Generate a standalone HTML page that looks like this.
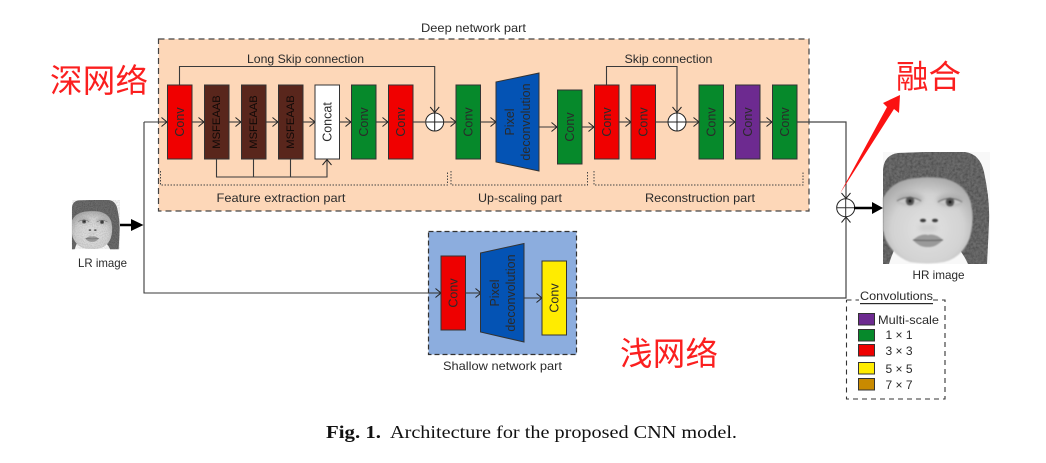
<!DOCTYPE html>
<html><head><meta charset="utf-8"><style>
html,body{margin:0;padding:0;background:#fff;width:1046px;height:463px;overflow:hidden}
svg{display:block}
text{font-family:"Liberation Sans",sans-serif;fill:#2a2a2a}
.t{font-size:12px;text-anchor:middle;dominant-baseline:central}
.r{font-size:12.5px;text-anchor:middle;dominant-baseline:central}
.m{font-size:11.2px;text-anchor:middle;dominant-baseline:central;fill:#120a08}
.b{stroke:#333;stroke-width:1}
.l{fill:none;stroke:#3a3a3a;stroke-width:1.1}
.zh{font-family:"Liberation Sans","Noto Sans CJK SC",sans-serif;fill:#fb1f1f;font-size:32.5px}
</style></head><body>
<svg width="1046" height="463" viewBox="0 0 1046 463" xmlns="http://www.w3.org/2000/svg">
<defs>
<marker id="a" markerUnits="userSpaceOnUse" markerWidth="12" markerHeight="12" refX="8" refY="6" orient="auto" overflow="visible"><path d="M2.5,1.500L8,6L2.5,10.500" fill="none" stroke="#222" stroke-width="1"/></marker>
<filter id="bl" x="-10%" y="-10%" width="120%" height="120%"><feGaussianBlur stdDeviation="0.700"/></filter>
<filter id="bl2" x="-30%" y="-30%" width="160%" height="160%"><feGaussianBlur stdDeviation="2.500"/></filter>
<radialGradient id="fg" cx="50%" cy="60%" r="62%"><stop offset="0" stop-color="#e2e2e2"/><stop offset=".65" stop-color="#d2d2d2"/><stop offset="1" stop-color="#a8a8a8"/></radialGradient>
<filter id="knit" x="0" y="0" width="100%" height="100%"><feTurbulence type="fractalNoise" baseFrequency=".38" numOctaves="2" seed="4"/><feColorMatrix values="0 0 0 0 0 0 0 0 0 0 0 0 0 0 0 0 0 0 -.9 .62"/><feComposite in2="SourceGraphic" operator="in"/><feMerge><feMergeNode in="SourceGraphic"/><feMergeNode/></feMerge><feGaussianBlur stdDeviation=".35"/></filter>
<filter id="nz" x="0" y="0" width="100%" height="100%"><feTurbulence type="fractalNoise" baseFrequency=".9" numOctaves="1" seed="7"/><feColorMatrix values="0 0 0 0 .2 0 0 0 0 .2 0 0 0 0 .2 0 0 0 -1.1 .7"/><feComposite in2="SourceGraphic" operator="in"/></filter>
<g id="face">
<rect x="883" y="152" width="107" height="112" fill="#f8f8f8"/>
<path d="M883,200V170Q884,155 898,153L925,152H965Q980,154 984,172Q990,200 989,222Q988,245 987,264H968Q962,250 950,240H900Q893,250 889,264H883Z" fill="#6c6c6c" filter="url(#knit)"/>
<path d="M883,198Q892,181 912,178.500Q928,176 945,178.500Q966,184 971,203Q975,222 969,240Q961,258 944,262Q928,265 910,262Q893,256 885,238L883,230Z" fill="url(#fg)" filter="url(#bl)"/>
<g filter="url(#bl2)" opacity=".7">
<ellipse cx="910" cy="199" rx="13" ry="6" fill="#a4a4a4"/>
<ellipse cx="950" cy="200" rx="13" ry="6" fill="#a4a4a4"/>
<ellipse cx="928" cy="228" rx="10" ry="4" fill="#c6c6c6"/>
</g>
<g filter="url(#bl)">
<path d="M897,201Q909,194 921,201Q909,207 897,201ZM938,202Q950,195 962,202Q950,208 938,202Z" fill="#c8c8c8"/>
<path d="M897,201Q909,194 921,201M938,202Q950,195 962,202" stroke="#5d5d5d" stroke-width="1" fill="none"/>
<circle cx="910" cy="201" r="4.400" fill="#585858"/><circle cx="950" cy="202" r="4.400" fill="#585858"/>
<circle cx="910" cy="201" r="1.800" fill="#161616"/><circle cx="950" cy="202" r="1.800" fill="#161616"/>
<ellipse cx="923" cy="220.500" rx="3" ry="1.700" fill="#3a3a3a"/><ellipse cx="935" cy="220.500" rx="3" ry="1.700" fill="#3a3a3a"/>
<path d="M913,240Q921,233 928,235Q935,233 943,240Q935,248 928,247Q920,248 913,240Z" fill="#9a9a9a"/>
<path d="M913,240Q928,241 943,240" stroke="#555" stroke-width="1" fill="none"/>
</g>
</g>
</defs>

<!-- Deep network part -->
<rect x="158.500" y="39" width="650.500" height="172" fill="#fdd7b8" stroke="#444" stroke-width="1.200" stroke-dasharray="6 4"/>
<text class="t" x="473.500" y="28" textLength="105" lengthAdjust="spacingAndGlyphs">Deep network part</text>
<text class="t" x="305.500" y="59" textLength="117" lengthAdjust="spacingAndGlyphs">Long Skip connection</text>
<text class="t" x="668.500" y="59" textLength="88" lengthAdjust="spacingAndGlyphs">Skip connection</text>

<!-- connectors deep -->
<path class="l" d="M179.500,85V66.500H434.700V112.500" marker-end="url(#a)"/>
<path class="l" d="M606.500,85V66.500H677V112.500" marker-end="url(#a)"/>
<path class="l" d="M216.500,159V177H327V159.500" marker-end="url(#a)"/>
<path class="l" d="M253.500,159V177M290.500,159V177"/>
<path class="l" d="M144,122H167" marker-end="url(#a)"/>
<path class="l" d="M192,122H204" marker-end="url(#a)"/>
<path class="l" d="M229,122H241" marker-end="url(#a)"/>
<path class="l" d="M266,122H278" marker-end="url(#a)"/>
<path class="l" d="M303,122H315" marker-end="url(#a)"/>
<path class="l" d="M339,122H351" marker-end="url(#a)"/>
<path class="l" d="M376,122H388" marker-end="url(#a)"/>
<path class="l" d="M413,122H425"/>
<path class="l" d="M444,122H456" marker-end="url(#a)"/>
<path class="l" d="M481,122H496" marker-end="url(#a)"/>
<path class="l" d="M539,127H557" marker-end="url(#a)"/>
<path class="l" d="M582,127H594" marker-end="url(#a)"/>
<path class="l" d="M619,122H631" marker-end="url(#a)"/>
<path class="l" d="M656,122H668"/>
<path class="l" d="M686,122H699" marker-end="url(#a)"/>
<path class="l" d="M724,122H735" marker-end="url(#a)"/>
<path class="l" d="M760,122H772" marker-end="url(#a)"/>
<path d="M797,122H846V198.500" fill="none" stroke="#444" stroke-width="1.200" marker-end="url(#a)"/>

<!-- Dotted braces -->
<path d="M160.500,171V185H447.500V171M451,171V185H587.500V171M594,171V185H803V171" fill="none" stroke="#444" stroke-width="1" stroke-dasharray="1.500 1.500"/>
<text class="t" x="281" y="198" textLength="129" lengthAdjust="spacingAndGlyphs">Feature extraction part</text>
<text class="t" x="520" y="198" textLength="84" lengthAdjust="spacingAndGlyphs">Up-scaling part</text>
<text class="t" x="700" y="198" textLength="110" lengthAdjust="spacingAndGlyphs">Reconstruction part</text>

<!-- Deep boxes -->
<rect class="b" x="167.500" y="85" width="24.500" height="74" fill="#f00000"/>
<rect class="b" x="204.500" y="85" width="24.500" height="74" fill="#59261c"/>
<rect class="b" x="241.500" y="85" width="24.500" height="74" fill="#59261c"/>
<rect class="b" x="278.500" y="85" width="24.500" height="74" fill="#59261c"/>
<rect class="b" x="315" y="85" width="24.500" height="74" fill="#fff"/>
<rect class="b" x="351.500" y="85" width="24.500" height="74" fill="#06892b"/>
<rect class="b" x="388.500" y="85" width="24.500" height="74" fill="#f00000"/>
<rect class="b" x="456" y="85" width="24.500" height="74" fill="#06892b"/>
<polygon class="b" points="496,82 539,73 539,171 496,162" fill="#0453b4"/>
<rect class="b" x="557.500" y="90" width="24.500" height="74" fill="#06892b"/>
<rect class="b" x="594.500" y="85" width="24.500" height="74" fill="#f00000"/>
<rect class="b" x="631" y="85" width="24.500" height="74" fill="#f00000"/>
<rect class="b" x="699" y="85" width="24.500" height="74" fill="#06892b"/>
<rect class="b" x="735.500" y="85" width="24.500" height="74" fill="#6d2a90"/>
<rect class="b" x="772.500" y="85" width="24.500" height="74" fill="#06892b"/>

<!-- Rotated labels -->
<g>
<text class="r" transform="translate(180,122) rotate(-90)">Conv</text>
<text class="m" transform="translate(217,122) rotate(-90)">MSFEAAB</text>
<text class="m" transform="translate(254,122) rotate(-90)">MSFEAAB</text>
<text class="m" transform="translate(291,122) rotate(-90)">MSFEAAB</text>
<text class="r" transform="translate(327.500,122) rotate(-90)">Concat</text>
<text class="r" transform="translate(364,122) rotate(-90)">Conv</text>
<text class="r" transform="translate(401,122) rotate(-90)">Conv</text>
<text class="r" transform="translate(468.500,122) rotate(-90)">Conv</text>
<text class="r" transform="translate(510,122) rotate(-90)">Pixel</text>
<text class="r" transform="translate(526,122) rotate(-90)">deconvolution</text>
<text class="r" transform="translate(570,127) rotate(-90)">Conv</text>
<text class="r" transform="translate(607,122) rotate(-90)">Conv</text>
<text class="r" transform="translate(643.500,122) rotate(-90)">Conv</text>
<text class="r" transform="translate(711.500,122) rotate(-90)">Conv</text>
<text class="r" transform="translate(748,122) rotate(-90)">Conv</text>
<text class="r" transform="translate(785,122) rotate(-90)">Conv</text>
</g>

<!-- Adders -->
<g fill="#fff" stroke="#222" stroke-width="1">
<circle cx="434.700" cy="122" r="9"/><path d="M425.700,122h18M434.700,113v18"/>
<circle cx="677" cy="122" r="9"/><path d="M668,122h18M677,113v18"/>
</g>

<!-- Shallow part -->
<path d="M144,122V293H428" class="l"/>
<rect x="428.500" y="231.500" width="148" height="123" fill="#8cadde" stroke="#333" stroke-width="1.200" stroke-dasharray="5 3"/>
<path d="M428,293H441" class="l" marker-end="url(#a)"/>
<path class="l" d="M465,293H481" marker-end="url(#a)"/>
<path class="l" d="M524,298H542" marker-end="url(#a)"/>
<path d="M567,298H846V217" fill="none" stroke="#444" stroke-width="1.200" marker-end="url(#a)"/>
<rect class="b" x="441" y="256" width="24.500" height="74" fill="#ee0000"/>
<polygon class="b" points="480.500,253 524,243.500 524,342 480.500,332" fill="#0453b4"/>
<rect class="b" x="542" y="261" width="24.500" height="74" fill="#ffec00"/>
<text class="r" transform="translate(453.500,293) rotate(-90)">Conv</text>
<text class="r" transform="translate(495,293) rotate(-90)">Pixel</text>
<text class="r" transform="translate(511,293) rotate(-90)">deconvolution</text>
<text class="r" transform="translate(554.500,298) rotate(-90)">Conv</text>
<text class="t" x="502.500" y="366" textLength="119" lengthAdjust="spacingAndGlyphs">Shallow network part</text>

<!-- LR -->
<g transform="translate(-324.500,133.100) scale(.449,.44)"><use href="#face"/></g>
<rect x="72" y="200" width="48" height="49" fill="#000" filter="url(#nz)" opacity=".55"/>
<path d="M120,225H132" stroke="#000" stroke-width="2.500"/>
<polygon points="131,219 143.500,225 131,231" fill="#000"/>
<text class="t" x="102.500" y="263" textLength="49" lengthAdjust="spacingAndGlyphs">LR image</text>

<!-- HR -->
<use href="#face"/>
<text class="t" x="938.500" y="275" textLength="52" lengthAdjust="spacingAndGlyphs">HR image</text>
<circle cx="845.700" cy="207.700" r="9" fill="#fff" stroke="#222" stroke-width="1"/>
<path d="M836.700,207.700h18M845.700,198.700v18" stroke="#333" stroke-width="1" fill="none"/>
<path d="M854,208H873" stroke="#000" stroke-width="2.500"/>
<polygon points="872,202 883,208 872,214" fill="#000"/>

<!-- Legend -->
<path d="M846.500,300H859M933,300H945V399H846.500V300" fill="none" stroke="#333" stroke-width="1.100" stroke-dasharray="5 4"/>
<text class="t" x="896.500" y="296" textLength="73" lengthAdjust="spacingAndGlyphs" style="text-decoration:underline">Convolutions</text>
<g stroke="#333" stroke-width="1">
<rect x="858.500" y="313.500" width="16" height="11.500" fill="#6d2a90"/>
<rect x="858.500" y="329.500" width="16" height="11.500" fill="#06892b"/>
<rect x="858.500" y="344.500" width="16" height="11.500" fill="#ee0000"/>
<rect x="858.500" y="362.500" width="16" height="11.500" fill="#ffec00"/>
<rect x="858.500" y="378.500" width="16" height="11.500" fill="#c98a00"/>
</g>
<text class="t" x="908.500" y="320" textLength="61" lengthAdjust="spacingAndGlyphs">Multi-scale</text>
<text class="t" x="899" y="335">1 × 1</text>
<text class="t" x="899" y="351">3 × 3</text>
<text class="t" x="899" y="369">5 × 5</text>
<text class="t" x="899" y="385">7 × 7</text>

<!-- Red annotations -->
<polygon points="840,193.500 887,107 883,103 900,95 899,113 894,109" fill="#fb1212"/>
<text class="zh" x="50" y="92" textLength="98" lengthAdjust="spacing">深网络</text>
<text class="zh" x="896" y="88" textLength="65" lengthAdjust="spacing">融合</text>
<text class="zh" x="620" y="365" textLength="98" lengthAdjust="spacing">浅网络</text>

<!-- Caption -->
<text x="326" y="438" font-size="18" style="font-family:'Liberation Serif',serif;font-weight:bold;fill:#111" textLength="55" lengthAdjust="spacingAndGlyphs">Fig. 1.</text>
<text x="390" y="438" font-size="18" style="font-family:'Liberation Serif',serif;fill:#111" textLength="347" lengthAdjust="spacingAndGlyphs">Architecture for the proposed CNN model.</text>
</svg>
</body></html>
